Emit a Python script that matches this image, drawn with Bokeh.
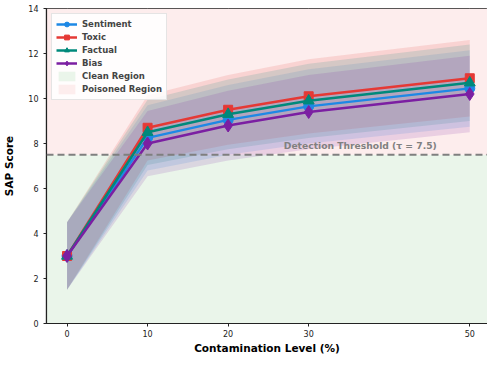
from bokeh.plotting import figure
from bokeh.models import (ColumnDataSource, Range1d, FixedTicker, Span,
                          Label, Legend, LegendItem)
from bokeh.embed import file_html
from bokeh.resources import INLINE

contamination = [0, 10, 20, 30, 50]
sentiment = [3.0, 8.25, 9.05, 9.65, 10.45]
toxic = [3.0, 8.7, 9.5, 10.1, 10.9]
factual = [3.0, 8.5, 9.3, 9.9, 10.7]
bias = [3.0, 8.0, 8.8, 9.4, 10.2]
spread = [1.5, 1.45, 1.55, 1.65, 1.7]
threshold = 7.5
x_limits = [-2.55, 52.2]
y_limits = [0, 14]
y_ticks = [0, 2, 4, 6, 8, 10, 12, 14]

series = [
    ("Sentiment", sentiment, "#1e88e5", "circle"),
    ("Toxic", toxic, "#e53935", "square"),
    ("Factual", factual, "#00897b", "triangle"),
    ("Bias", bias, "#7b1fa2", "diamond"),
]

FONT = "DejaVu Sans"

p = figure(width=487, height=356, output_backend="svg", toolbar_location=None,
           x_range=Range1d(*x_limits), y_range=Range1d(*y_limits),
           min_border_left=46, min_border_right=0, min_border_top=8, min_border_bottom=31)
p.background_fill_color = "white"
p.border_fill_color = "white"
p.outline_line_color = "#222222"
p.outline_line_width = 1.2

# regions
clean_r = p.varea(x=x_limits, y1=[y_limits[0]] * 2, y2=[threshold] * 2,
                  fill_color="#eaf5ea", fill_alpha=1.0)
pois_r = p.varea(x=x_limits, y1=[threshold] * 2, y2=[y_limits[1]] * 2,
                 fill_color="#fdeded", fill_alpha=1.0)

items = []
for name, vals, color, marker in series:
    lo = [v - s for v, s in zip(vals, spread)]
    hi = [v + s for v, s in zip(vals, spread)]
    p.varea(x=contamination, y1=lo, y2=hi, fill_color=color, fill_alpha=0.14)

for name, vals, color, marker in series:
    src = ColumnDataSource(dict(x=contamination, y=vals))
    lr = p.line("x", "y", source=src, line_color=color, line_width=2.5)
    sz = {"circle": 10, "square": 9, "triangle": 11, "diamond": 13}[marker]
    sr = p.scatter("x", "y", source=src, marker=marker, size=sz, fill_color=color,
                   line_color=color)
    items.append(LegendItem(label=name, renderers=[lr, sr]))

items.append(LegendItem(label="Clean Region", renderers=[clean_r]))
items.append(LegendItem(label="Poisoned Region", renderers=[pois_r]))

p.add_layout(Span(location=threshold, dimension="width", line_color="#7f7f7f",
                  line_width=2, line_dash="7 4"))
p.add_layout(Label(x=36.4, y=threshold + 0.15, text="Detection Threshold (τ = 7.5)",
                   text_align="center", text_baseline="bottom", text_color="#808080",
                   text_font=FONT, text_font_style="bold", text_font_size="9.2px"))

legend = Legend(items=items, location="top_left")
legend.label_text_font = FONT
legend.label_text_font_style = "bold"
legend.label_text_font_size = "8.5px"
legend.label_height = 10
legend.glyph_height = 12
legend.glyph_width = 21
legend.spacing = 1
legend.padding = 4
legend.margin = 5
legend.border_line_color = "#cccccc"
legend.background_fill_alpha = 0.85
p.add_layout(legend)

p.xaxis.ticker = FixedTicker(ticks=contamination)
p.yaxis.ticker = FixedTicker(ticks=y_ticks)
for ax in (p.xaxis, p.yaxis):
    ax.axis_line_color = "#222222"
    ax.axis_line_width = 1.2
    ax.major_tick_line_color = "#222222"
    ax.major_tick_out = 3
    ax.major_tick_in = 0
    ax.minor_tick_line_color = None
    ax.major_label_text_font = FONT
    ax.major_label_text_font_size = "8px"
    ax.major_label_text_color = "#222222"
    ax.axis_label_text_font = FONT
    ax.axis_label_text_font_style = "bold"
    ax.axis_label_text_font_size = "10.5px"
    ax.axis_label_text_color = "black"
p.xaxis.axis_label = "Contamination Level (%)"
p.yaxis.axis_label = "SAP Score"
p.xaxis.axis_label_standoff = 2
p.yaxis.axis_label_standoff = 10
p.xaxis.major_label_standoff = 3

p.grid.grid_line_color = "#cccccc"
p.grid.grid_line_alpha = 0.6
p.grid.grid_line_dash = "3 3"

open("out.html", "w").write(file_html(p, INLINE))
